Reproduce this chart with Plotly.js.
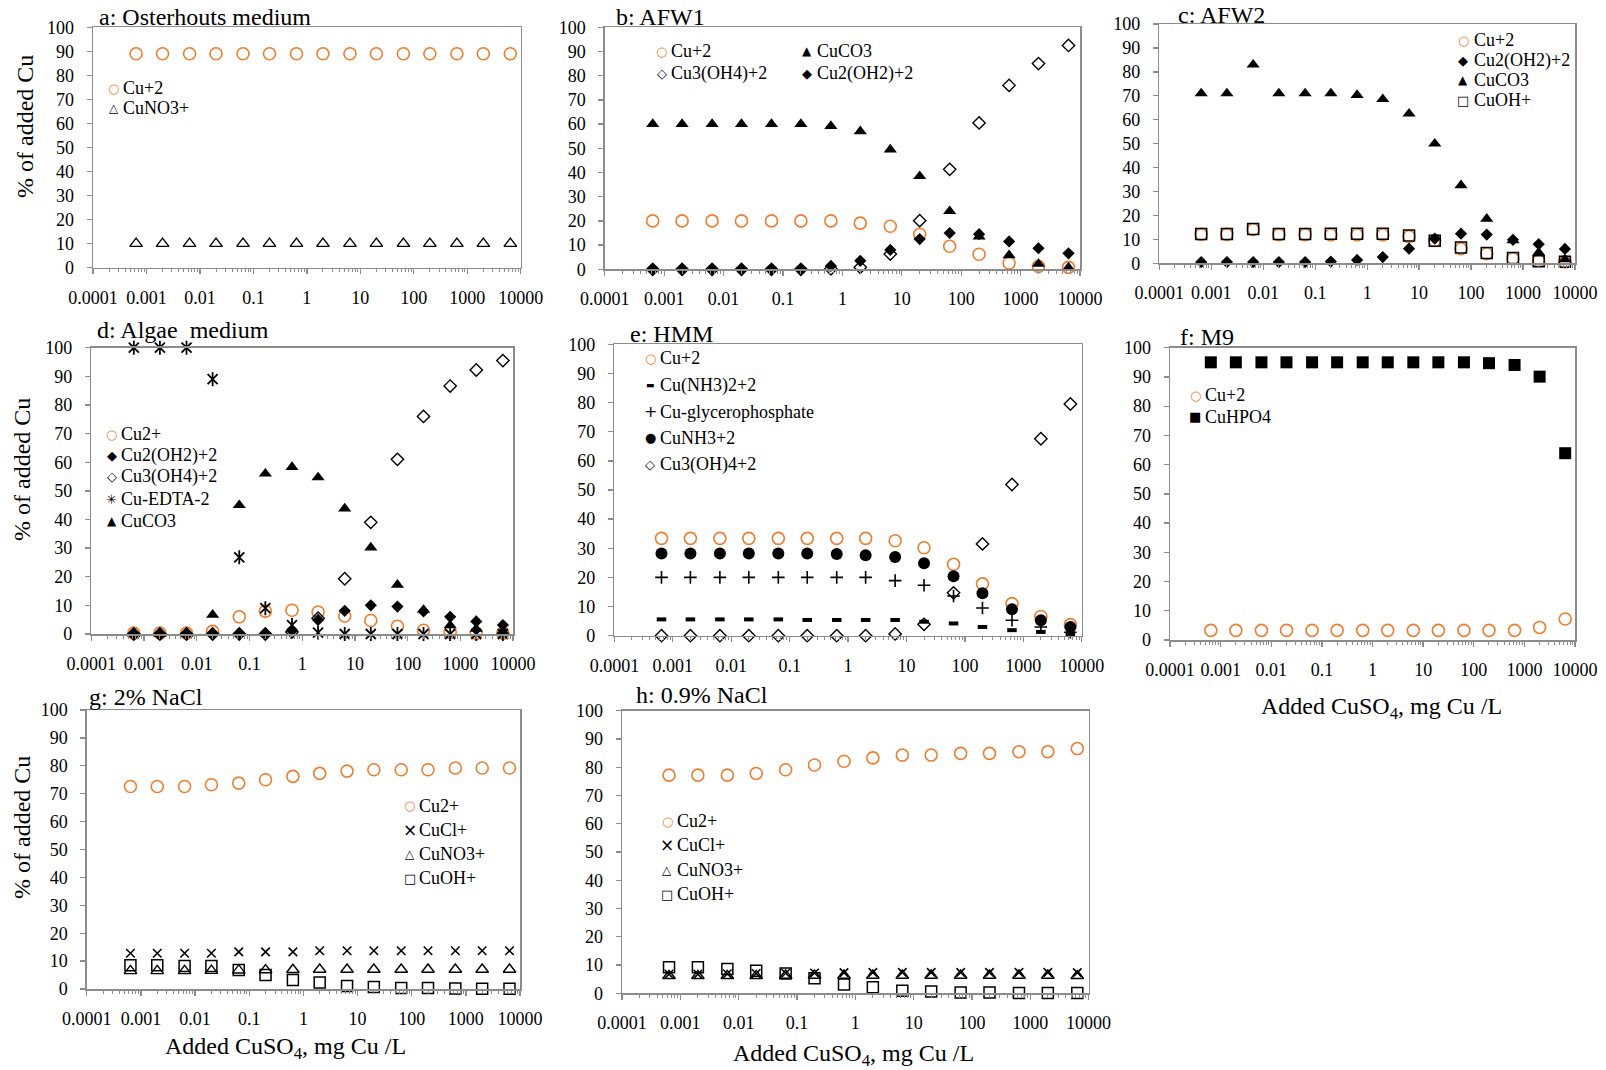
<!DOCTYPE html>
<html>
<head>
<meta charset="utf-8">
<script src="https://cdn.plot.ly/plotly-3.0.1.min.js"></script>
<style>
  html, body { margin: 0; padding: 0; background: #ffffff; }
  #chart { width: 1606px; height: 1070px; }
</style>
</head>
<body>
<div id="chart"></div>
<script>
// Copper speciation (% of added Cu) versus added CuSO4 (mg Cu/L) in eight media.

// Added copper concentrations, mg Cu/L (same series for every medium)
const CONC = [0.00064, 0.002, 0.0064, 0.02, 0.064, 0.2, 0.64, 2, 6.4, 20, 64, 200, 640, 2000, 6400];

// Axis ticks
const DECADE_TICKS = [0.0001, 0.001, 0.01, 0.1, 1, 10, 100, 1000, 10000];
const DECADE_LABELS = ['0.0001', '0.001', '0.01', '0.1', '1', '10', '100', '1000', '10000'];
const PCT_TICKS = [0, 10, 20, 30, 40, 50, 60, 70, 80, 90, 100];

// a: Osterhouts medium
const aCu2   = [89, 89, 89, 89, 89, 89, 89, 89, 89, 89, 89, 89, 89, 89, 89];
const aCuNO3 = [10, 10, 10, 10, 10, 10, 10, 10, 10, 10, 10, 10, 10, 10, 10];

// b: AFW1
const bCu2    = [20, 20, 20, 20, 20, 20, 20, 19.1, 17.8, 14.5, 9.5, 6.2, 2.6, 1.2, 0.8];
const bCuCO3  = [60, 60, 60, 60, 60, 60, 59.2, 57, 49.5, 38.5, 24, 13.5, 5.8, 2.2, 0.7];
const bCu3OH4 = [0, 0, 0, 0, 0, 0, 0.2, 0.8, 6.3, 20.1, 41.3, 60.5, 76, 85, 92.5];
const bCu2OH2 = [0, 0, 0, 0, 0, 0, 1.4, 3.5, 8, 12.5, 15, 14.5, 11.5, 8.7, 6.6];

// c: AFW2
const cCu2    = [12.1, 12.1, 14.1, 12, 12, 11.9, 11.9, 11.9, 11.2, 9.5, 6.1, 4, 1.9, 1.1, 0.6];
const cCu2OH2 = [0.5, 0.5, 0.5, 0.5, 0.5, 0.7, 1.4, 2.6, 6.1, 10.3, 12.4, 12, 9.8, 8, 6];
const cCuCO3  = [71, 71, 83, 71, 71, 71, 70.3, 68.6, 62.5, 50, 32.6, 18.6, 9.6, 4.5, 1.6];
const cCuOH   = [12.2, 12.2, 14.3, 12.2, 12.2, 12.3, 12.3, 12.3, 11.6, 9.4, 6.6, 4.3, 2.2, 0.9, 0.6];

// d: Algae medium
const dCu2    = [0.3, 0.3, 0.3, 0.9, 6, 8, 8.3, 7.7, 6.3, 4.7, 2.7, 1.3, 0.6, 0.2, 0.2];
const dCu2OH2 = [0, 0, 0, 0.1, 0.2, 0.2, 1.2, 4.9, 8.1, 10, 9.6, 7.9, 6, 4.4, 3.1];
const dCu3OH4 = [0, 0, 0, 0, 0, 0, 0.7, 5.5, 19.3, 39, 61, 76, 86.6, 92.2, 95.5];
const dEDTA   = [100, 100, 100, 89, 26.8, 9, 3.1, 0.5, 0, 0, 0, 0, 0, 0, 0];
const dCuCO3  = [0, 0, 0, 6.7, 45, 56, 58.3, 54.7, 43.8, 30.2, 17.2, 8.4, 3, 1.8, 1];

// e: HMM
const eCu2     = [33.4, 33.4, 33.4, 33.4, 33.4, 33.4, 33.4, 33.4, 32.6, 30.2, 24.5, 17.8, 11, 6.6, 3.8];
const eCuNH32  = [5.6, 5.6, 5.6, 5.6, 5.6, 5.4, 5.4, 5.4, 5.4, 4.8, 4.2, 3, 1.9, 1.3, 0.6];
const eGlycero = [20, 20, 20, 20, 20, 20, 20, 20, 18.9, 17.3, 13.6, 9.5, 5.3, 3, 1.2];
const eCuNH3   = [28.2, 28.2, 28.2, 28.2, 28.2, 28.2, 28, 27.6, 27, 24.9, 20.4, 14.6, 9.1, 5.3, 3];
const eCu3OH4  = [0, 0, 0, 0, 0, 0, 0, 0, 0.6, 3.9, 14.7, 31.5, 51.9, 67.6, 79.5];

// f: M9
const fCu2    = [3.3, 3.3, 3.3, 3.3, 3.3, 3.3, 3.3, 3.3, 3.3, 3.3, 3.3, 3.3, 3.3, 4.3, 7.2];
const fCuHPO4 = [95, 95, 95, 95, 95, 95, 95, 95, 95, 95, 95, 94.7, 94.1, 90.1, 63.9];

// g: 2% NaCl
const gCu2   = [72.6, 72.6, 72.6, 73.2, 73.8, 75, 76.2, 77.3, 78.1, 78.6, 78.6, 78.6, 79.2, 79.2, 79.2];
const gCuCl  = [12.8, 12.8, 12.8, 12.8, 13.3, 13.3, 13.3, 13.7, 13.7, 13.7, 13.7, 13.7, 13.7, 13.7, 13.7];
const gCuNO3 = [6.5, 6.5, 6.5, 6.6, 6.7, 6.8, 6.9, 7, 7, 7, 7, 7, 7, 7, 7];
const gCuOH  = [8.5, 8.5, 8.2, 8.2, 6.8, 5, 3.2, 2.3, 1.1, 0.7, 0.4, 0.4, 0.2, 0.1, 0.1];

// h: 0.9% NaCl
const hCu2   = [77.2, 77.2, 77.2, 77.8, 79.1, 80.8, 82.1, 83.3, 84.3, 84.3, 84.9, 84.9, 85.5, 85.5, 86.6];
const hCuCl  = [6.8, 6.8, 6.9, 7, 7.1, 7.2, 7.3, 7.4, 7.4, 7.4, 7.4, 7.4, 7.4, 7.4, 7.3];
const hCuNO3 = [6.2, 6.2, 6.2, 6.2, 6.3, 6.3, 6.3, 6.3, 6.3, 6.3, 6.3, 6.3, 6.3, 6.3, 6.2];
const hCuOH  = [9.2, 9.2, 8.6, 8, 7, 5.3, 3.1, 2.1, 0.9, 0.6, 0.3, 0.3, 0.1, 0.1, 0.1];

// ---------------------------------------------------------------------------
const W = 1606, H = 1070;
const ORANGE = '#ED7D31';
const INK = '#000000';
const AXIS = '#8c8c8c';
const SERIF = '"Liberation Serif", "Times New Roman", Times, serif';
const SYMFONT = '"DejaVu Sans", sans-serif';

// Marker styles; each also carries the glyph used for its legend key
function mk(symbol, size, color, lw) {
  return { symbol: symbol, size: size, color: color, line: { color: color, width: lw } };
}
const STYLES = {
  orangeCircle:  { markers: [mk('circle-open', 12, ORANGE, 1.6)],      glyph: '○', gsize: 13, gcolor: ORANGE },
  openTriangle:  { markers: [mk('triangle-up-open', 11, INK, 1.4)],    glyph: '△', gsize: 12 },
  solidTriangle: { markers: [mk('triangle-up', 11.5, INK, 0)],         glyph: '▲', gsize: 12 },
  openDiamond:   { markers: [mk('diamond-open', 9.5, INK, 1.4)],       glyph: '◇', gsize: 13 },
  solidDiamond:  { markers: [mk('diamond', 9.4, INK, 0)],              glyph: '◆', gsize: 13 },
  openSquare:    { markers: [mk('square-open', 11, INK, 1.5)],         glyph: '□', gsize: 13 },
  solidSquare:   { markers: [mk('square', 12, INK, 0)],                glyph: '■', gsize: 13 },
  xMark:         { markers: [mk('x-thin-open', 8.5, INK, 1.6)],        glyph: '×', gsize: 17 },
  crossMark:     { markers: [mk('cross-thin-open', 9, INK, 1.6)],      glyph: '+', gsize: 16 },
  solidCircle:   { markers: [mk('circle', 12, INK, 0)],                glyph: '●', gsize: 13 },
  dashMark:      { markers: [mk('line-ew-open', 6.8, INK, 4)],         glyph: '▬', gsize: 9 },
  starMark:      { markers: [mk('x-thin-open', 10, INK, 1.8), mk('line-ns-open', 10, INK, 1.8)], glyph: '✳', gsize: 13 }
};

const RES_X = 'Added CuSO<sub>4</sub>, mg Cu /L';
const RES_Y = '% of added Cu';

// Panel boxes are [left, top, right, bottom] in page pixels.
// Legend rows: [series index, key x, text x, row y].
const PANELS = [
  { title: 'a: Osterhouts medium', box: [93, 27.3, 520.7, 267.7], titleAt: [97, 17.5], yTitleAt: [25, 127],
    series: [['Cu+2', aCu2, 'orangeCircle'], ['CuNO3+', aCuNO3, 'openTriangle']],
    legend: [[0, 113.6, 120.5, 88.3], [1, 113.6, 120.5, 108.3]] },
  { title: 'b: AFW1', box: [604.8, 27.3, 1080, 269.3], titleAt: [614, 17.5],
    series: [['Cu+2', bCu2, 'orangeCircle'], ['CuCO3', bCuCO3, 'solidTriangle'],
             ['Cu3(OH4)+2', bCu3OH4, 'openDiamond'], ['Cu2(OH2)+2', bCu2OH2, 'solidDiamond']],
    legend: [[0, 661.6, 668.8, 51], [1, 807.2, 815, 51], [2, 661.6, 668.8, 74], [3, 807.2, 815, 74]] },
  { title: 'c: AFW2', box: [1159.3, 24, 1575, 263.3], titleAt: [1176, 15],
    series: [['Cu+2', cCu2, 'orangeCircle'], ['Cu2(OH2)+2', cCu2OH2, 'solidDiamond'],
             ['CuCO3', cCuCO3, 'solidTriangle'], ['CuOH+', cCuOH, 'openSquare']],
    legend: [[0, 1463.3, 1471.5, 40], [1, 1463.3, 1471.5, 60], [2, 1463.3, 1471.5, 80], [3, 1463.3, 1471.5, 100]] },
  { title: 'd: Algae  medium', box: [91.3, 347.7, 513.1, 634], titleAt: [94.5, 330], yTitleAt: [22, 470],
    series: [['Cu2+', dCu2, 'orangeCircle'], ['Cu2(OH2)+2', dCu2OH2, 'solidDiamond'],
             ['Cu3(OH4)+2', dCu3OH4, 'openDiamond'], ['Cu-EDTA-2', dEDTA, 'starMark'],
             ['CuCO3', dCuCO3, 'solidTriangle']],
    legend: [[0, 111.9, 119, 434], [1, 111.9, 119, 455.7], [2, 111.9, 119, 476.7], [3, 111.9, 119, 499], [4, 111.9, 119, 520.7]] },
  { title: 'e: HMM', box: [614.4, 344.3, 1081.7, 635.7], titleAt: [628, 334],
    series: [['Cu+2', eCu2, 'orangeCircle'], ['Cu(NH3)2+2', eCuNH32, 'dashMark'],
             ['Cu-glycerophosphate', eGlycero, 'crossMark'], ['CuNH3+2', eCuNH3, 'solidCircle'],
             ['Cu3(OH)4+2', eCu3OH4, 'openDiamond']],
    legend: [[0, 650.2, 657.8, 358.3], [1, 650.2, 657.8, 385], [2, 650.2, 657.8, 411.7], [3, 650.2, 657.8, 437.7], [4, 650.2, 657.8, 464]] },
  { title: 'f: M9', box: [1170, 347.7, 1575, 640], titleAt: [1178, 337.3], xTitleAt: [1381, 708],
    series: [['Cu+2', fCu2, 'orangeCircle'], ['CuHPO4', fCuHPO4, 'solidSquare']],
    legend: [[0, 1195, 1203, 395], [1, 1195, 1203, 416.7]] },
  { title: 'g: 2% NaCl', box: [86.8, 710, 520, 989], titleAt: [86.5, 697.3], yTitleAt: [22, 828], xTitleAt: [285, 1048],
    series: [['Cu2+', gCu2, 'orangeCircle'], ['CuCl+', gCuCl, 'xMark'],
             ['CuNO3+', gCuNO3, 'openTriangle'], ['CuOH+', gCuOH, 'openSquare']],
    legend: [[0, 409.8, 417, 805.7], [1, 409.8, 417, 830], [2, 409.8, 417, 854.3], [3, 409.8, 417, 878.3]] },
  { title: 'h: 0.9% NaCl', box: [622, 710.7, 1088.6, 993.3], titleAt: [634, 695], xTitleAt: [853.6, 1055],
    series: [['Cu2+', hCu2, 'orangeCircle'], ['CuCl+', hCuCl, 'xMark'],
             ['CuNO3+', hCuNO3, 'openTriangle'], ['CuOH+', hCuOH, 'openSquare']],
    legend: [[0, 667.4, 674.5, 821], [1, 667.4, 674.5, 845], [2, 667.4, 674.5, 870], [3, 667.4, 674.5, 894]] }
];

// Minor ticks at 2..9 within each decade
const MINOR_TICKS = [];
for (let e = -4; e < 4; e++) {
  for (let m = 2; m <= 9; m++) MINOR_TICKS.push(m * Math.pow(10, e));
}

const px = x => x / W;
const py = y => 1 - y / H;

const traces = [];
const annotations = [];
const layout = {
  width: W, height: H,
  margin: { l: 0, r: 0, t: 0, b: 0 },
  paper_bgcolor: '#ffffff', plot_bgcolor: '#ffffff',
  showlegend: false,
  font: { family: SERIF, size: 18, color: INK },
  annotations: annotations
};

function label(text, x, y, opts) {
  annotations.push(Object.assign({
    text: text, x: px(x), y: py(y), xref: 'paper', yref: 'paper',
    showarrow: false, xanchor: 'left', yanchor: 'middle',
    font: { family: SERIF, size: 18, color: INK }
  }, opts || {}));
}

PANELS.forEach((p, i) => {
  const n = i + 1;
  const xa = n === 1 ? 'x' : 'x' + n;
  const ya = n === 1 ? 'y' : 'y' + n;
  const [l, t, r, b] = p.box;

  layout[n === 1 ? 'xaxis' : 'xaxis' + n] = {
    domain: [px(l), px(r)], anchor: ya,
    type: 'log', range: [-4, 4],
    tickmode: 'array', tickvals: DECADE_TICKS, ticktext: DECADE_LABELS,
    ticks: 'outside', ticklen: 5, tickwidth: 1.3, tickcolor: AXIS,
    ticklabelstandoff: 8,
    minor: { tickmode: 'array', tickvals: MINOR_TICKS, ticks: 'outside', ticklen: 3, tickwidth: 1, tickcolor: AXIS, showgrid: false },
    showline: true, linecolor: AXIS, linewidth: 1.5, mirror: true,
    showgrid: false, zeroline: false, fixedrange: true,
    tickfont: { family: SERIF, size: 18, color: INK }
  };
  layout[n === 1 ? 'yaxis' : 'yaxis' + n] = {
    domain: [py(b), py(t)], anchor: xa,
    range: [0, 100],
    tickmode: 'array', tickvals: PCT_TICKS,
    ticks: 'outside', ticklen: 5, tickwidth: 1.3, tickcolor: AXIS,
    ticklabelstandoff: 9,
    showline: true, linecolor: AXIS, linewidth: 1.5, mirror: true,
    showgrid: false, zeroline: false, fixedrange: true,
    tickfont: { family: SERIF, size: 18, color: INK }
  };

  // Species markers
  p.series.forEach(([name, values, styleKey]) => {
    STYLES[styleKey].markers.forEach(m => {
      traces.push({
        type: 'scatter', mode: 'markers', name: name,
        x: CONC, y: values, xaxis: xa, yaxis: ya,
        cliponaxis: false, showlegend: false, hoverinfo: 'skip',
        marker: m
      });
    });
  });

  // Legend keys and species names
  p.legend.forEach(([idx, kx, tx, ry]) => {
    const [name, , styleKey] = p.series[idx];
    const st = STYLES[styleKey];
    label(st.glyph, kx, ry, {
      xanchor: 'center',
      font: { family: SYMFONT, size: st.gsize, color: st.gcolor || INK }
    });
    label(name, tx, ry);
  });

  // Panel caption
  label(p.title, p.titleAt[0], p.titleAt[1], { font: { family: SERIF, size: 24, color: INK } });

  if (p.yTitleAt) {
    label(RES_Y, p.yTitleAt[0], p.yTitleAt[1], {
      xanchor: 'center', textangle: -90,
      font: { family: SERIF, size: 24, color: INK }
    });
  }
  if (p.xTitleAt) {
    label(RES_X, p.xTitleAt[0], p.xTitleAt[1], {
      xanchor: 'center',
      font: { family: SERIF, size: 24, color: INK }
    });
  }
});

Plotly.newPlot('chart', traces, layout, { staticPlot: true, displayModeBar: false });
</script>
</body>
</html>
